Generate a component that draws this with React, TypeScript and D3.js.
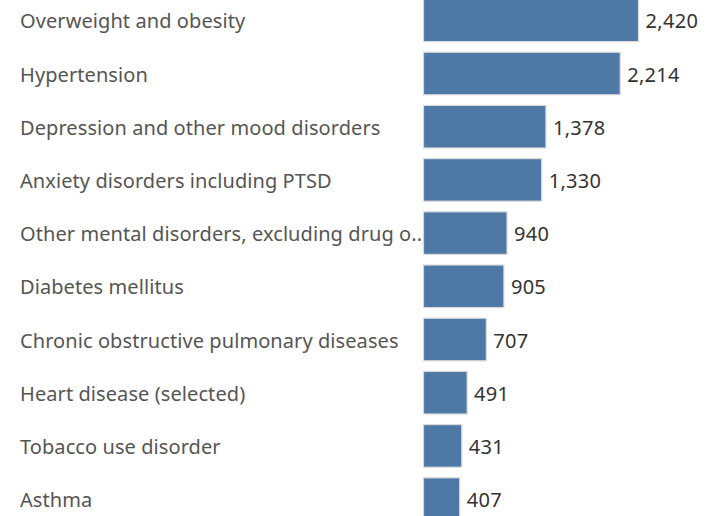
import React from "react";
import * as d3 from "d3";

const categories = [
  "Overweight and obesity",
  "Hypertension",
  "Depression and other mood disorders",
  "Anxiety disorders including PTSD",
  "Other mental disorders, excluding drug o..",
  "Diabetes mellitus",
  "Chronic obstructive pulmonary diseases",
  "Heart disease (selected)",
  "Tobacco use disorder",
  "Asthma",
];
const values = [2420, 2214, 1378, 1330, 940, 905, 707, 491, 431, 407];

const W = 717;
const H = 516;

export default function App() {
  const x = d3.scaleLinear().domain([0, 2420]).range([423.5, 638.5]);
  const step = 53.2;
  const y = d3
    .scaleBand<string>()
    .domain(categories)
    .range([-6.3, step * 10 - 6.3])
    .paddingInner(0.2)
    .paddingOuter(0.1);
  const fmt = d3.format(",");
  const font = "'Noto Sans', 'Open Sans', sans-serif";
  return (
    <svg
      width={W}
      height={H}
      style={{ position: "absolute", left: 0, top: 0, background: "#fff" }}
    >
      {categories.map((c, i) => {
        const y0 = y(c)!;
        const bh = y.bandwidth();
        const cy = y0 + bh / 2;
        return (
          <g key={c}>
            <text
              x={20}
              y={cy + 1}
              dy="0.35em"
              fontFamily={font}
              fontSize={20}
              letterSpacing={0.08}
              fill="#555"
            >
              {c}
            </text>
            <rect
              x={x(0)}
              y={y0}
              width={x(values[i]) - x(0)}
              height={bh}
              fill="#4e79a7"
              stroke="#d9d9d9"
              strokeWidth={1.2}
            />
            <text
              x={x(values[i]) + 7}
              y={cy + 1}
              dy="0.35em"
              fontFamily={font}
              fontSize={20}
              letterSpacing={0.3}
              fill="#333"
            >
              {fmt(values[i])}
            </text>
          </g>
        );
      })}
    </svg>
  );
}
